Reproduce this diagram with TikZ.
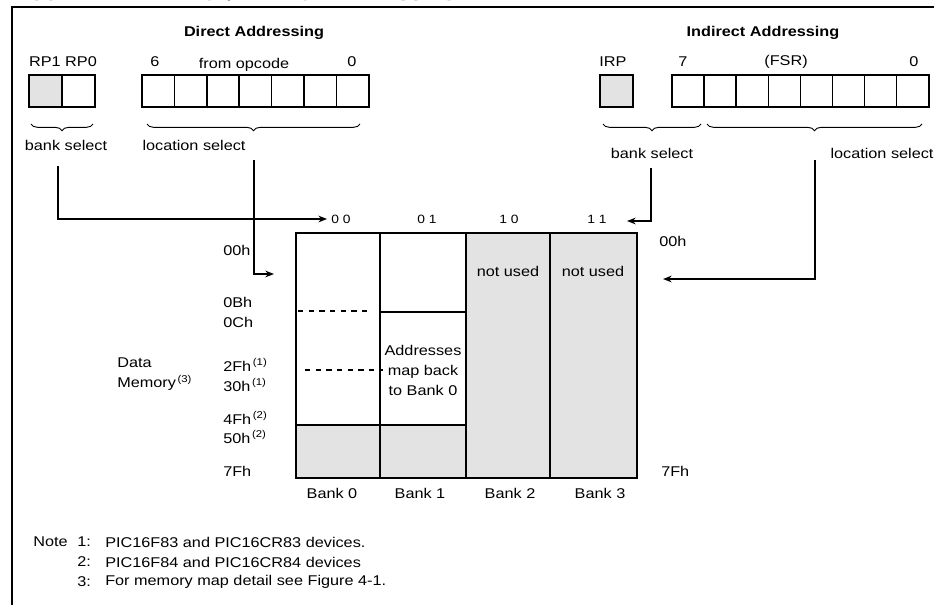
\documentclass[tikz,border=0pt]{standalone}
\usepackage{fontspec}
\setmainfont{Liberation Sans}[FakeStretch=1.15]
\usetikzlibrary{arrows.meta,decorations.pathreplacing}
\tikzstyle{lbl}=[inner sep=0pt,font=\fontsize{10.6}{12}\selectfont]
\tikzstyle{ttl}=[inner sep=0pt,font=\fontsize{10.6}{12}\selectfont\bfseries]
\tikzstyle{bnum}=[inner sep=0pt,font=\fontsize{9}{10}\selectfont]
\tikzstyle{cell}=[draw=black,line width=1.1pt,inner sep=0pt,minimum height=24pt,minimum width=24.3pt]
\tikzstyle{gcell}=[cell,fill=black!11]
\tikzstyle{conn}=[-{Stealth[length=6.5pt,width=5pt]}, line width=1.1pt]
\tikzstyle{brc}=[decorate,decoration={brace,mirror,amplitude=5pt},line width=0.7pt]
\newcommand{\fn}[1]{\textsuperscript{\,(#1)}}

\begin{document}
\begin{tikzpicture}[x=0.75pt,y=-0.75pt]
\useasboundingbox (0,0) rectangle (934,604);
\node[anchor=base west,inner sep=0pt,font=\fontsize{12.5}{14}\selectfont\bfseries] (fig) at (12,0) {\makebox[108pt][l]{FIGURE 4-2:}DIRECT/INDIRECT ADDRESSING};
\draw[line width=1.6pt] (12,610) |- (940,7);
% direct addressing
\node[ttl] (dtitle) at (254,33) {Direct Addressing};
\node[lbl] (rp) at (63,62) {RP1 RP0};
\node[lbl] (b6) at (155,62) {6};
\node[lbl] (opc) at (244,65) {from opcode};
\node[lbl] (b0d) at (352,62) {0};
\node[gcell,minimum width=24.75pt] (rp1) at (45.5,91) {};
\node[cell,minimum width=24.75pt] (rp0) at (78.5,91) {};
\foreach \i in {0,...,6} \node[cell] (op\i) at ({158.2+32.4*\i},91) {};
\draw[brc] (31,124) -- (93,124);
\draw[brc] (147,124) -- (360,124);
\node[lbl] (bsd) at (66,145) {bank select};
\node[lbl] (lsd) at (194,145) {location select};
% indirect addressing
\node[ttl] (ititle) at (763,33) {Indirect Addressing};
\node[lbl] (irpl) at (613,62) {IRP};
\node[lbl] (b7) at (683,62) {7};
\node[lbl] (fsrl) at (786,62) {(FSR)};
\node[lbl] (b0i) at (914,62) {0};
\node[gcell,minimum width=24.75pt] (irp) at (616.5,91) {};
\foreach \i in {0,...,7} \node[cell,minimum width=24.1pt] (fsr\i) at ({688.05+32.1*\i},91) {};
\draw[brc] (603,124) -- (701,124);
\draw[brc] (707,124) -- (922,124);
\node[lbl] (bsi) at (652,153) {bank select};
\node[lbl] (lsi) at (882,153) {location select};
% bank map
\fill[black!11] (296,425) rectangle (466,478);
\fill[black!11] (466,233) rectangle (637,478);
\draw[line width=1.1pt] (296,233) rectangle (637,478);
\draw[line width=1.1pt] (380,233) -- (380,478) (466,233) -- (466,478) (550,233) -- (550,478);
\draw[line width=1.1pt] (296,425) -- (466,425) (380,312) -- (466,312);
\draw[line width=0.9pt,dash pattern=on 4pt off 4pt] (298,311) -- (372,311);
\draw[line width=0.9pt,dash pattern=on 4pt off 4pt] (305,370) -- (466,370);
\node[lbl,align=center,fill=white,inner sep=1pt,font=\fontsize{10.6}{15}\selectfont] (mapb) at (423,370) {Addresses\\map back\\to Bank 0};
\node[lbl] (nu2) at (508,271) {not used};
\node[lbl] (nu3) at (593,271) {not used};
\node[bnum] (h00) at (341,219) {0\,\,0};
\node[bnum] (h01) at (427,219) {0\,\,1};
\node[bnum] (h10) at (509,219) {1\,\,0};
\node[bnum] (h11) at (597,219) {1\,\,1};
\node[lbl] (bk0) at (332,493) {Bank 0};
\node[lbl] (bk1) at (420,493) {Bank 1};
\node[lbl] (bk2) at (510,493) {Bank 2};
\node[lbl] (bk3) at (600,493) {Bank 3};
% addresses
\node[lbl,anchor=west] (a00) at (223,250) {00h};
\node[lbl,anchor=west] (a0b) at (223,302) {0Bh};
\node[lbl,anchor=west] (a0c) at (223,322) {0Ch};
\node[lbl,anchor=west] (a2f) at (223,365) {2Fh\fn{1}};
\node[lbl,anchor=west] (a30) at (223,385) {30h\fn{1}};
\node[lbl,anchor=west] (a4f) at (223,418) {4Fh\fn{2}};
\node[lbl,anchor=west] (a50) at (223,437) {50h\fn{2}};
\node[lbl,anchor=west] (a7f) at (223,471) {7Fh};
\node[lbl,anchor=west] (r00) at (659,241) {00h};
\node[lbl,anchor=west] (r7f) at (661,471) {7Fh};
\node[lbl,anchor=west] (dat) at (117,363) {Data};
\node[lbl,anchor=west] (mem) at (117,383) {Memory\fn{3}};
% connectors
\coordinate (bs1) at (58,166);
\coordinate (ls1) at (254,160);
\coordinate (in1) at (274,274);
\coordinate (bs2) at (651,168);
\coordinate (in11) at (627,221);
\coordinate (ls2) at (815,160);
\coordinate (in2) at (663,279);
\draw[conn] (bs1) |- ([xshift=-3pt]h00.west);
\draw[conn] (ls1) |- (in1);
\draw[conn] (bs2) |- (in11);
\draw[conn] (ls2) |- (in2);
% notes
\node[lbl,anchor=west] (note) at (33,542) {Note};
\node[lbl,anchor=west] (n1) at (77,542) {1:};
\node[lbl,anchor=west] (n2) at (77,562) {2:};
\node[lbl,anchor=west] (n3) at (77,582) {3:};
\node[lbl,anchor=west] (t1) at (105,542) {PIC16F83 and PIC16CR83 devices.};
\node[lbl,anchor=west] (t2) at (105,562) {PIC16F84 and PIC16CR84 devices};
\node[lbl,anchor=west] (t3) at (105,582) {For memory map detail see Figure 4-1.};
\end{tikzpicture}
\end{document}
